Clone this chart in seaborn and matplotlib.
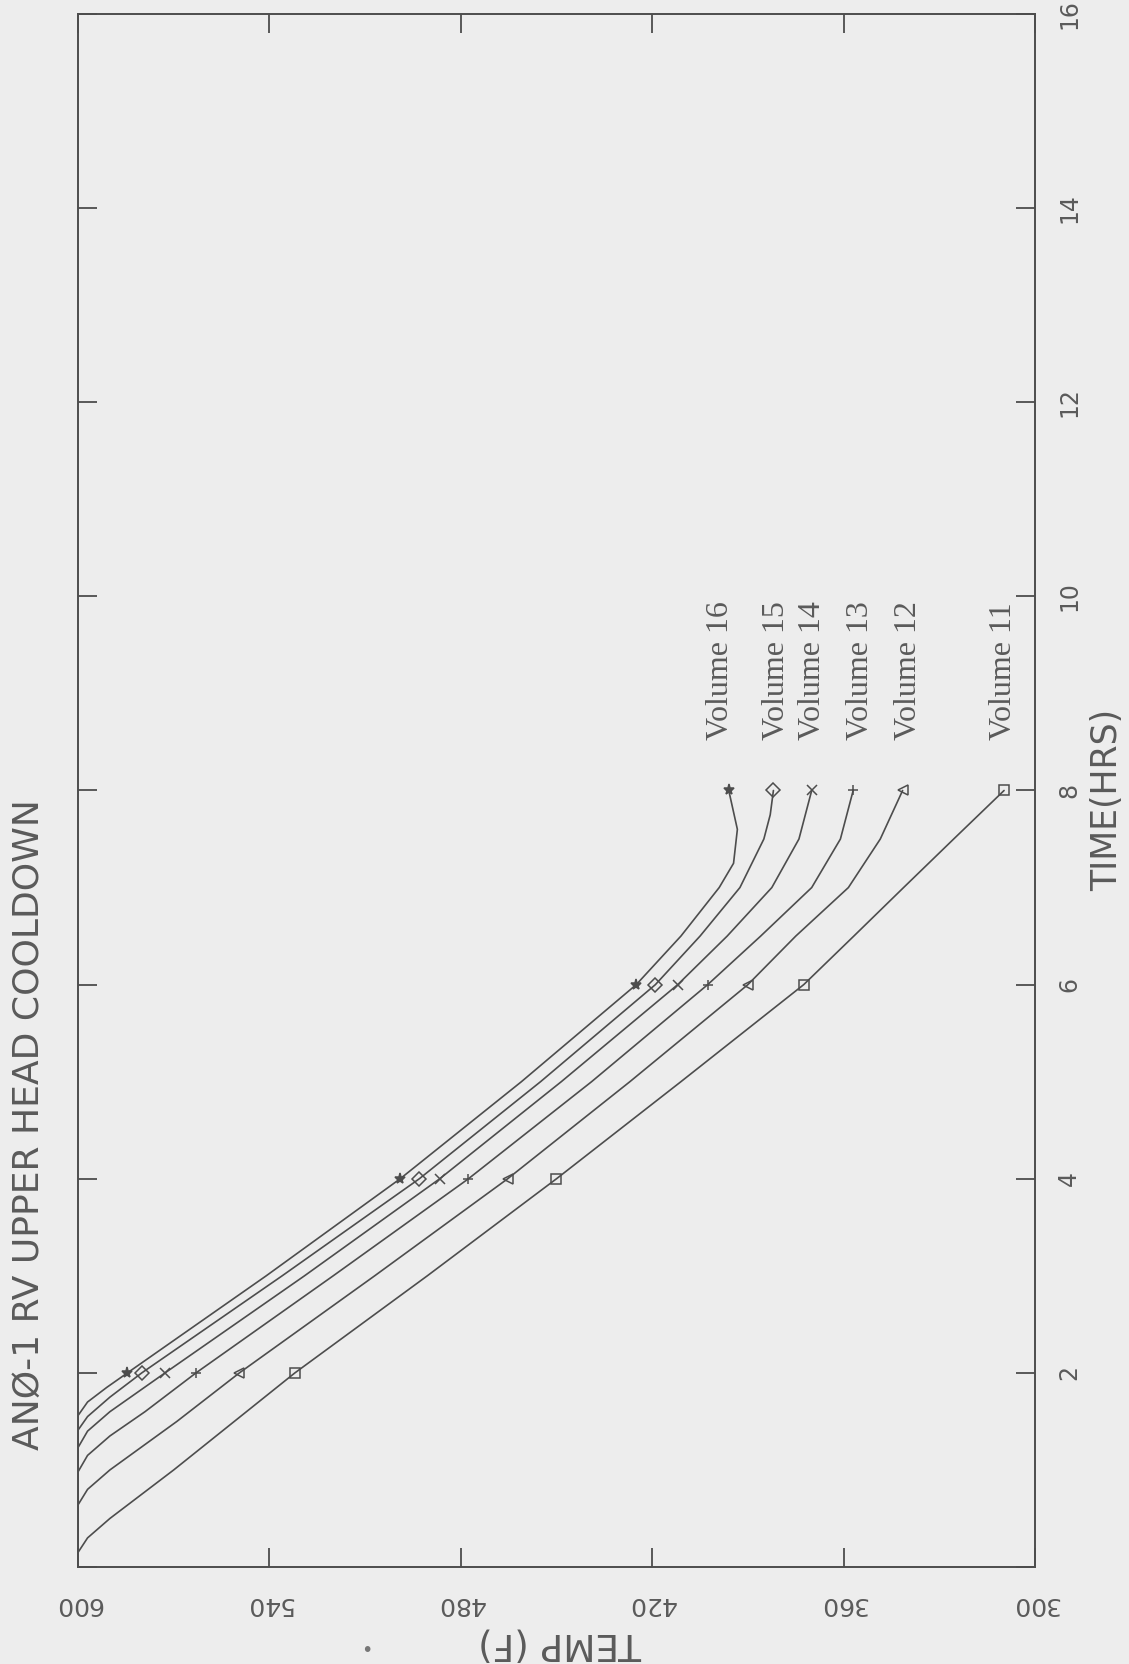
import matplotlib
matplotlib.use("Agg")
import matplotlib.pyplot as plt
import seaborn as sns
import pandas as pd

# ---------------- data ----------------
volumes = ["Volume 11", "Volume 12", "Volume 13", "Volume 14", "Volume 15", "Volume 16"]

vol11_time = [0, 0.15, 0.3, 0.5, 1.0, 1.5, 2, 3, 4, 5, 6, 6.5, 7, 7.5, 8]
vol11_temp = [600, 600, 597, 590, 570, 551, 532, 490.5, 450, 411, 372.5, 356.8, 341.2, 325.5, 309.7]

vol12_time = [0, 0.64, 0.8, 1.0, 1.5, 2, 3, 4, 5, 6, 6.5, 7, 7.5, 8]
vol12_temp = [600, 600, 597, 590, 569, 549.4, 507, 465.3, 427, 390, 375, 358.5, 348.5, 341.5]

vol13_time = [0, 0.98, 1.15, 1.35, 1.6, 2, 3, 4, 5, 6, 6.5, 7, 7.5, 8]
vol13_temp = [600, 600, 597, 590, 579, 563, 520, 477.6, 439, 402.6, 386, 370, 361, 357]

vol14_time = [0, 1.23, 1.4, 1.6, 2, 3, 4, 5, 6, 6.5, 7, 7.5, 8]
vol14_temp = [600, 600, 597, 590, 572.7, 529, 486.6, 448.5, 412, 396.5, 382.5, 374, 370]

vol15_time = [0, 1.41, 1.55, 1.75, 2, 3, 4, 5, 6, 6.5, 7, 7.5, 7.75, 8]
vol15_temp = [600, 600, 597, 590, 580, 536, 493, 455, 419, 405, 392.5, 385, 383, 382]

vol16_time = [0, 1.56, 1.7, 1.85, 2, 3, 4, 5, 6, 6.5, 7, 7.25, 7.6, 8]
vol16_temp = [600, 600, 597, 591, 584.5, 541, 499, 461, 425, 411, 399, 394.5, 393.3, 396]

marker_times = [2, 4, 6, 8]
marker_styles = ["s", "<", "+", "x", "D", "*"]

# where each "Volume NN" label sits (temperature of its column)
label_temps = [309.8, 339.6, 354.6, 369.7, 381.0, 398.6]

temp_ticks = [600, 540, 480, 420, 360, 300]
time_ticks = [0, 2, 4, 6, 8, 10, 12, 14, 16]
time_tick_labels = ["", "2", "4", "6", "8", "10", "12", "14", "16"]

title_text = "ANØ-1 RV UPPER HEAD COOLDOWN"
xlabel_text = "TEMP (F)"
ylabel_text = "TIME(HRS)"

series_time = [vol11_time, vol12_time, vol13_time, vol14_time, vol15_time, vol16_time]
series_temp = [vol11_temp, vol12_temp, vol13_temp, vol14_temp, vol15_temp, vol16_temp]

# ---------------- build table ----------------
rows = []
for name, ts, Ts in zip(volumes, series_time, series_temp):
    for t, T in zip(ts, Ts):
        rows.append({"volume": name, "time": t, "temp": T})
df = pd.DataFrame(rows)

# ---------------- style ----------------
sns.set_theme(style="white")
plt.rcParams["font.family"] = ["DejaVu Sans"]
ink = "#4d4d4d"
txt = "#5a5a5a"
paper = "#ededed"

fig = plt.figure(figsize=(11.29, 16.64), dpi=100, facecolor=paper)
W, H = 1129, 1664
x0, x1, ytop, ybot = 78, 1035, 14, 1567
ax = fig.add_axes([x0 / W, 1 - ybot / H, (x1 - x0) / W, (ybot - ytop) / H])
ax.set_facecolor(paper)

sns.lineplot(data=df, x="temp", y="time", hue="volume", units="volume",
             estimator=None, sort=False, orient="y",
             palette=[ink] * len(volumes), linewidth=1.2, legend=False, ax=ax)

# markers at 2,4,6,8 hrs
for name, m in zip(volumes, marker_styles):
    sub = df[(df["volume"] == name) & (df["time"].isin(marker_times))]
    filled = m == "*"
    ax.plot(sub["temp"], sub["time"], linestyle="none", marker=m,
            markersize=7 if m != "*" else 8,
            markerfacecolor=ink if filled else "none",
            markeredgecolor=ink, markeredgewidth=1.1, zorder=3)

# volume labels
for name, lt in zip(volumes, label_temps):
    ax.text(lt, 8.52, name, rotation=90, ha="center", va="bottom",
            fontsize=23, family="Liberation Serif", color=txt)

ax.set_xlim(600, 300)
ax.set_ylim(0, 16)
ax.set_xticks(temp_ticks)
ax.set_xticklabels([str(v) for v in temp_ticks], rotation=180, fontsize=18, color=txt)
ax.set_yticks(time_ticks)
ax.set_yticklabels(time_tick_labels, rotation=90, fontsize=17, color=txt, va="center")
ax.tick_params(axis="x", direction="in", length=14, width=1.3, color=ink,
               top=True, bottom=True, labelbottom=True, labeltop=False, pad=18)
ax.tick_params(axis="y", direction="in", length=14, width=1.3, color=ink,
               left=True, right=True, labelleft=False, labelright=True, pad=16)
ax.set_xlabel("")
ax.set_ylabel("")
for s in ax.spines.values():
    s.set_color(ink)
    s.set_linewidth(1.4)

fig.text(29 / W, 1 - 1125 / H, title_text, rotation=90, ha="center", va="center",
         fontsize=26, color=txt)
fig.text(560 / W, 1 - 1643 / H, xlabel_text, rotation=180, ha="center", va="center",
         fontsize=27, color=txt)
fig.text(1107 / W, 1 - 800 / H, ylabel_text, rotation=90, ha="center", va="center",
         fontsize=25, color=txt)
fig.text(367 / W, 1 - 1650 / H, "•", ha="center", va="center", fontsize=14, color="#777777")

fig.savefig("out.png", dpi=100, facecolor=paper)
